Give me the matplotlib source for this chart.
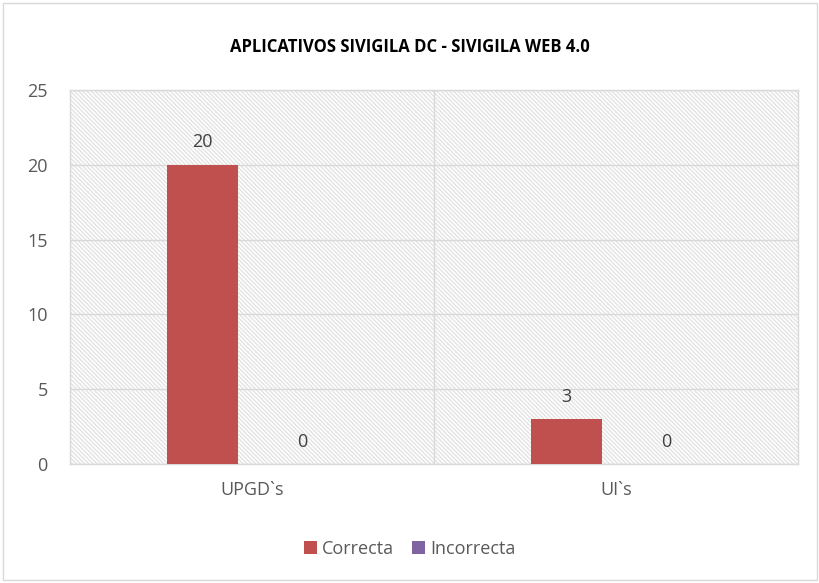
import numpy as np
import matplotlib.pyplot as plt

categories = ['UPGD`s', 'UI`s']
correcta = [20, 3]
incorrecta = [0, 0]

plt.rcParams['font.family'] = ['Open Sans', 'DejaVu Sans']
plt.rcParams['hatch.color'] = '#e3e3e3'
plt.rcParams['hatch.linewidth'] = 1.0

fig = plt.figure(figsize=(8.2, 5.83), dpi=100)
ax = fig.add_axes([70 / 820, 1 - 464 / 583, 728 / 820, 374 / 583])

# chart border
fig.patches.append(plt.Rectangle((3 / 820, 3 / 583), 814 / 820, 577 / 583, transform=fig.transFigure,
                                 fill=False, edgecolor='#d9d9d9', linewidth=1))

ax.patch.set_facecolor('white')
ax.patch.set_hatch('\\' * 8)
ax.patch.set_edgecolor('#e3e3e3')

x = np.arange(len(categories))
w = 0.195
off = 0.137
b1 = ax.bar(x - off, correcta, w, color='#C0504D', label='Correcta', zorder=3)
b2 = ax.bar(x + off, incorrecta, w, color='#8064A2', label='Incorrecta', zorder=3)

for rect, v in zip(b1, correcta):
    ax.text(rect.get_x() + rect.get_width() / 2, v + 0.9, str(v), ha='center', va='bottom',
            fontsize=13, color='#404040')
for rect, v in zip(b2, incorrecta):
    ax.text(rect.get_x() + rect.get_width() / 2, v + 0.9, str(v), ha='center', va='bottom',
            fontsize=13, color='#404040')

ax.set_xlim(-0.5, 1.5)
ax.set_ylim(0, 25)
ax.set_yticks(np.arange(0, 26, 5))
ax.set_xticks(x)
ax.set_xticklabels(categories)
ax.tick_params(axis='both', length=0, labelsize=13, labelcolor='#595959')
ax.tick_params(axis='x', pad=12)
ax.tick_params(axis='y', pad=16)

ax.grid(axis='y', color='#d9d9d9', linewidth=1, zorder=1)
ax.set_axisbelow(True)
ax.axvline(0.5, color='#d9d9d9', linewidth=1, zorder=1)
for s in ax.spines.values():
    s.set_color('#d9d9d9')
    s.set_linewidth(1)

fig.text(0.5, 1 - 47 / 583, 'APLICATIVOS SIVIGILA DC - SIVIGILA WEB 4.0', ha='center', va='center',
         fontsize=12, fontweight='bold', color='black')

fig.legend(handles=[b1, b2], loc='center', bbox_to_anchor=(0.5, 1 - 549 / 583), ncol=2, frameon=False,
           fontsize=13, handlelength=0.7, handleheight=0.7, handletextpad=0.3, columnspacing=1.0,
           labelcolor='#595959')

fig.savefig('out.png', dpi=100)
